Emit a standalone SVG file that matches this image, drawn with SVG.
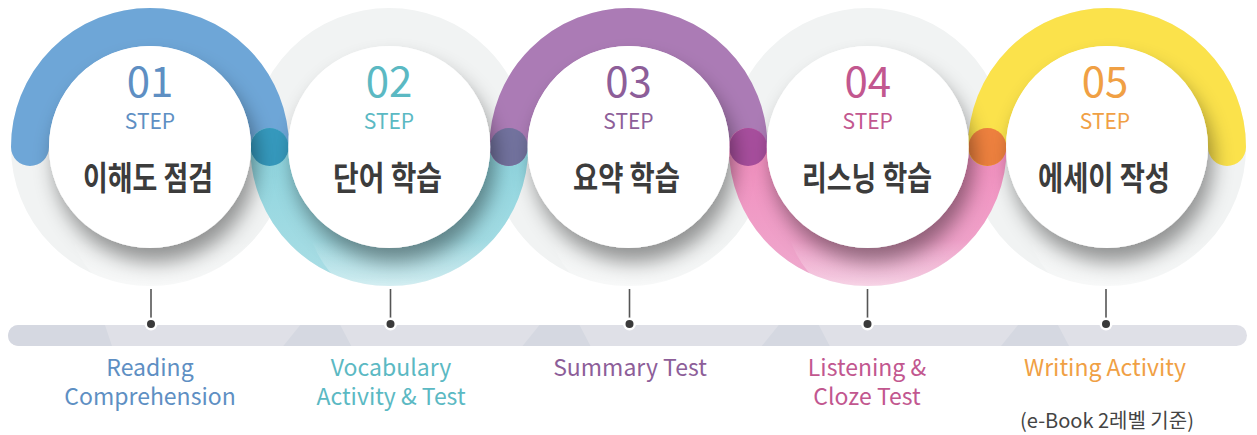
<svg xmlns="http://www.w3.org/2000/svg" width="1257" height="435" viewBox="0 0 1257 435">
<style>
.ring{fill:none;stroke:#f1f3f3;stroke-width:38}
.arc{fill:none;stroke-width:38;stroke-linecap:round}
.wc{fill:#ffffff;filter:url(#ds)}
.num{font-family:"Noto Sans CJK KR","Noto Sans",sans-serif;font-size:42px;font-weight:400;text-anchor:middle}
.step{font-family:"Noto Sans CJK KR","Noto Sans",sans-serif;font-size:21px;font-weight:400;text-anchor:middle}
.title{font-family:"Noto Sans CJK KR","Noto Sans",sans-serif;font-size:33px;font-weight:700;fill:#3c3c3c;text-anchor:middle}
.lbl{font-family:"Noto Sans CJK KR","Noto Sans",sans-serif;font-size:23px;font-weight:400;text-anchor:middle}
.note{font-family:"Noto Sans CJK KR","Noto Sans",sans-serif;font-size:20px;fill:#444;text-anchor:middle}
.pin{stroke:#555;stroke-width:1.6}
.fade{fill:url(#fadeG)}
</style>
<defs>
<filter id="ds" x="-30%" y="-30%" width="160%" height="170%">
<feDropShadow dx="5" dy="14" stdDeviation="10" flood-color="#000" flood-opacity="0.4"/>
</filter>
<linearGradient id="fadeG" x1="0" y1="0.74" x2="0" y2="1">
<stop offset="0" stop-color="#fff" stop-opacity="0"/>
<stop offset="0.55" stop-color="#fff" stop-opacity="0.35"/>
<stop offset="1" stop-color="#fff" stop-opacity="0.85"/>
</linearGradient>
<linearGradient id="tealG" gradientUnits="userSpaceOnUse" x1="0" y1="140" x2="0" y2="286">
<stop offset="0" stop-color="#8cd4de"/>
<stop offset="1" stop-color="#abdee5"/>
</linearGradient>
<linearGradient id="pinkG" gradientUnits="userSpaceOnUse" x1="0" y1="140" x2="0" y2="286">
<stop offset="0" stop-color="#f28cbd"/>
<stop offset="1" stop-color="#eeaace"/>
</linearGradient>
<clipPath id="barClip"><rect x="8" y="325" width="1239" height="21" rx="10.5"/></clipPath>
</defs>
<rect width="1257" height="435" fill="#ffffff"/>

<g id="rings">
<circle class="ring" cx="150" cy="147" r="120"/>
<circle class="ring" cx="389.25" cy="147" r="120"/>
<circle class="ring" cx="628.5" cy="147" r="120"/>
<circle class="ring" cx="867.75" cy="147" r="120"/>
<circle class="ring" cx="1107" cy="147" r="120"/>
<path class="arc" stroke="#6ea6d7" d="M30,147 A120,120 0 0 1 270,147"/>
<path class="arc" stroke="url(#tealG)" d="M269.25,147 A120,120 0 0 0 509.25,147"/>
<path class="arc" stroke="#ab7bb5" d="M508.5,147 A120,120 0 0 1 748.5,147"/>
<path class="arc" stroke="url(#pinkG)" d="M747.75,147 A120,120 0 0 0 987.75,147"/>
<path class="arc" stroke="#fbe24b" d="M987,147 A120,120 0 0 1 1227,147"/>
<circle cx="269.6" cy="147" r="19" fill="#3599bd"/>
<circle cx="508.9" cy="147" r="19" fill="#72729e"/>
<circle cx="748.1" cy="147" r="19" fill="#a74e9d"/>
<circle cx="987.4" cy="147" r="19" fill="#ee813e"/>
</g>

<g id="fades">
<path class="fade" d="M53.2,176 L71.2,236 A101,101 0 0 0 264.8,178 L246.8,118 A101,101 0 0 0 53.2,176 Z"/>
<path class="fade" d="M292.45,176 L310.45,236 A101,101 0 0 0 504.050,178 L486.05,118 A101,101 0 0 0 292.45,176 Z"/>
<path class="fade" d="M531.7,176 L549.7,236 A101,101 0 0 0 743.3,178 L725.3,118 A101,101 0 0 0 531.7,176 Z"/>
<path class="fade" d="M770.95,176 L788.95,236 A101,101 0 0 0 982.55,178 L964.55,118 A101,101 0 0 0 770.95,176 Z"/>
<path class="fade" d="M1010.2,176 L1028.2,236 A101,101 0 0 0 1221.8,178 L1203.8,118 A101,101 0 0 0 1010.2,176 Z"/>
</g>

<g id="bar">
<rect x="8" y="325" width="1239" height="21" rx="10.5" fill="#dfe0e7"/>
<g clip-path="url(#barClip)" fill="#d5d8e1">
<polygon points="0,325 105,325 112,346 0,346"/>
<polygon points="300.25,325 340.25,325 351.25,346 283.25,346"/>
<polygon points="539.5,325 579.5,325 590.5,346 522.5,346"/>
<polygon points="778.75,325 818.75,325 829.75,346 761.75,346"/>
<polygon points="1018,325 1058,325 1069,346 1001,346"/>
</g>
</g>

<g id="connectors">
<line class="pin" x1="151" y1="289" x2="151" y2="323"/>
<circle cx="151" cy="324" r="6.5" fill="#fff"/><circle cx="151" cy="324" r="4" fill="#3a3a3a"/>
<line class="pin" x1="390.5" y1="289" x2="390.5" y2="323"/>
<circle cx="390.5" cy="324" r="6.5" fill="#fff"/><circle cx="390.5" cy="324" r="4" fill="#3a3a3a"/>
<line class="pin" x1="629.5" y1="289" x2="629.5" y2="323"/>
<circle cx="629.5" cy="324" r="6.5" fill="#fff"/><circle cx="629.5" cy="324" r="4" fill="#3a3a3a"/>
<line class="pin" x1="867.5" y1="289" x2="867.5" y2="323"/>
<circle cx="867.5" cy="324" r="6.5" fill="#fff"/><circle cx="867.5" cy="324" r="4" fill="#3a3a3a"/>
<line class="pin" x1="1106" y1="289" x2="1106" y2="323"/>
<circle cx="1106" cy="324" r="6.5" fill="#fff"/><circle cx="1106" cy="324" r="4" fill="#3a3a3a"/>
</g>

<g id="step1">
<circle class="wc" cx="150" cy="147" r="101"/>
<text class="num" x="150" y="97" fill="#5e8fc3">01</text>
<text class="step" x="150" y="129" fill="#5e8fc3">STEP</text>
<text class="title" x="148" y="190" textLength="130" lengthAdjust="spacingAndGlyphs">이해도 점검</text>
<text class="lbl" fill="#5e8fc3"><tspan x="150" y="376">Reading</tspan><tspan x="150" y="405">Comprehension</tspan></text>
</g>
<g id="step2">
<circle class="wc" cx="389.25" cy="147" r="101"/>
<text class="num" x="389" y="97" fill="#5bb9c3">02</text>
<text class="step" x="389" y="129" fill="#5bb9c3">STEP</text>
<text class="title" x="387.5" y="190" textLength="109" lengthAdjust="spacingAndGlyphs">단어 학습</text>
<text class="lbl" fill="#5bb9c3"><tspan x="391" y="376">Vocabulary</tspan><tspan x="391" y="405">Activity &amp; Test</tspan></text>
</g>
<g id="step3">
<circle class="wc" cx="628.5" cy="147" r="101"/>
<text class="num" x="628.5" y="97" fill="#8d5e99">03</text>
<text class="step" x="628.5" y="129" fill="#8d5e99">STEP</text>
<text class="title" x="626.5" y="190" textLength="107" lengthAdjust="spacingAndGlyphs">요약 학습</text>
<text class="lbl" x="630" y="376" fill="#8d5e99">Summary Test</text>
</g>
<g id="step4">
<circle class="wc" cx="867.75" cy="147" r="101"/>
<text class="num" x="867.75" y="97" fill="#c2578f">04</text>
<text class="step" x="867.75" y="129" fill="#c2578f">STEP</text>
<text class="title" x="867" y="190" textLength="130" lengthAdjust="spacingAndGlyphs">리스닝 학습</text>
<text class="lbl" fill="#c2578f"><tspan x="867" y="376">Listening &amp;</tspan><tspan x="867" y="405">Cloze Test</tspan></text>
</g>
<g id="step5">
<circle class="wc" cx="1107" cy="147" r="101"/>
<text class="num" x="1105" y="97" fill="#f0a044">05</text>
<text class="step" x="1105" y="129" fill="#f0a044">STEP</text>
<text class="title" x="1104" y="190" textLength="132" lengthAdjust="spacingAndGlyphs">에세이 작성</text>
<text class="lbl" x="1105" y="376" fill="#f0a044">Writing Activity</text>
<text class="note" x="1107" y="428">(e-Book 2레벨 기준)</text>
</g>
</svg>
